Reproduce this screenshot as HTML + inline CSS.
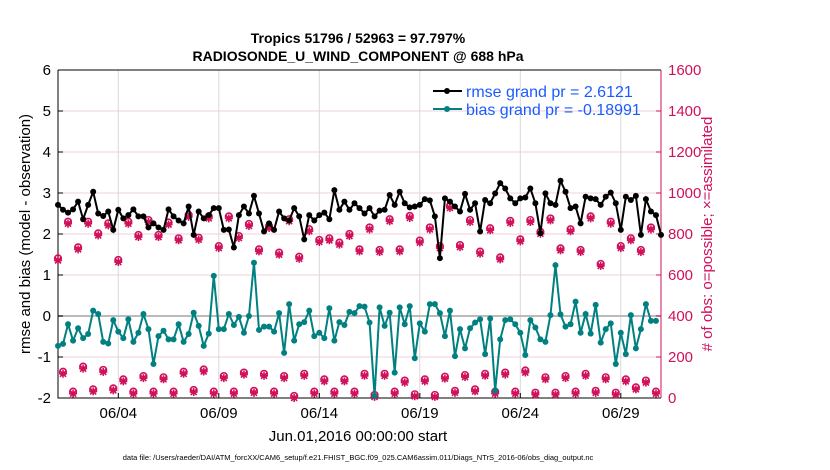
<!DOCTYPE html>
<html><head><meta charset="utf-8"><style>
body{margin:0;background:#fff;}
svg{display:block;font-family:"Liberation Sans",sans-serif;}
</style></head><body>
<svg id="chart" width="830" height="470" viewBox="0 0 830 470" xmlns="http://www.w3.org/2000/svg">
<text x="358" y="43" text-anchor="middle" font-size="14" font-weight="bold">Tropics 51796 / 52963 = 97.797%</text>
<text x="358" y="61" text-anchor="middle" font-size="14" font-weight="bold">RADIOSONDE_U_WIND_COMPONENT @ 688 hPa</text>
<g id="grid"></g>
<g id="axes"></g>
<g id="series"></g>
<text transform="translate(30,234) rotate(-90)" text-anchor="middle" font-size="15">rmse and bias (model - observation)</text>
<text fill="#d0105a" transform="translate(712,234) rotate(-90)" text-anchor="middle" font-size="15"># of obs: o=possible; ×=assimilated</text>
<text x="358" y="441" text-anchor="middle" font-size="15">Jun.01,2016 00:00:00 start</text>
<text x="358" y="460" text-anchor="middle" font-size="7.5">data file: /Users/raeder/DAI/ATM_forcXX/CAM6_setup/f.e21.FHIST_BGC.f09_025.CAM6assim.011/Diags_NTrS_2016-06/obs_diag_output.nc</text>
<g>
<line x1="433" y1="91" x2="462" y2="91" stroke="#000" stroke-width="2"/><circle cx="447" cy="91" r="3" fill="#000"/>
<text x="466" y="97" font-size="16" fill="#1a5cff">rmse grand pr = 2.6121</text>
<line x1="433" y1="109" x2="462" y2="109" stroke="#008080" stroke-width="2"/><circle cx="447" cy="109" r="3" fill="#008080"/>
<text x="466" y="115" font-size="16" fill="#1a5cff">bias grand pr = -0.18991</text>
</g>
</svg>
<script>
const rmse=[2.71,2.59,2.52,2.60,2.79,2.36,2.71,3.03,2.50,2.44,2.55,2.10,2.59,2.38,2.46,2.60,2.43,2.43,2.16,2.26,2.16,2.10,2.60,2.43,2.33,2.26,2.67,1.98,2.55,2.38,2.46,
2.63,2.63,2.10,2.11,1.67,2.46,2.67,2.50,2.93,2.50,2.06,2.26,2.10,2.55,2.38,2.33,2.63,2.43,1.87,2.46,2.33,2.46,2.52,2.36,3.07,2.59,2.79,2.59,2.75,2.63,
2.50,2.63,2.43,2.57,2.59,2.95,2.71,3.03,2.75,2.65,2.67,2.71,2.85,2.82,2.43,1.41,2.87,2.79,2.67,2.55,2.98,2.59,2.75,2.06,2.83,2.75,2.99,3.24,3.11,2.87,2.75,
2.87,2.89,3.11,2.75,2.02,2.99,2.75,2.71,3.30,3.03,2.63,2.67,2.26,2.91,2.87,2.85,2.71,2.91,3.01,2.75,2.10,2.91,2.83,2.93,1.98,2.85,2.55,2.46,1.98];
const bias=[-0.73,-0.68,-0.20,-0.60,-0.30,-0.54,-0.44,0.13,0.05,-0.63,-0.67,-0.10,-0.38,-0.54,-0.08,-0.63,-0.41,0.05,-0.32,-1.17,-0.49,-0.36,-0.57,-0.57,-0.20,-0.63,-0.44,0.08,-0.24,-0.73,-0.43,
0.98,-0.32,-0.32,0.05,-0.22,-0.02,-0.41,0.00,1.30,-0.34,-0.26,-0.26,-0.38,0.07,-0.90,0.29,-0.60,-0.20,-0.15,0.13,-0.49,-0.41,-0.54,0.19,-0.60,-0.15,-0.22,0.10,0.07,0.24,
0.23,-0.16,-1.95,0.21,-0.24,0.08,-1.38,0.21,-0.20,0.24,-1.03,-0.18,-0.38,0.29,0.29,0.07,-0.49,0.13,-0.98,-0.32,-0.79,-0.30,-0.16,-0.08,-0.93,-0.06,-1.82,-0.57,-0.10,-0.08,
-0.20,-0.41,-0.95,-0.10,-0.28,-0.57,-0.63,0.02,1.24,0.04,-0.26,-0.20,0.35,-0.41,0.05,-0.43,0.27,-0.65,-0.32,-0.18,-1.17,-0.41,-0.93,0.02,-0.79,-0.32,0.29,-0.12,-0.12];
const nPossible=[681,128,860,31,735,153,860,42,803,137,852,47,673,91,860,31,795,107,868,31,795,101,856,31,779,128,893,39,782,139,886,
31,741,107,886,31,790,124,849,35,725,118,839,31,709,107,872,10,689,118,823,31,771,91,779,31,758,91,800,31,725,
118,832,15,722,118,872,31,725,85,888,18,768,91,832,15,741,104,937,35,746,112,868,42,714,118,828,31,686,124,864,
31,774,134,868,26,811,101,876,26,730,107,823,31,722,118,886,35,654,101,860,26,741,91,779,52,722,85,832,31];
const nAssimilated=[681,128,860,31,735,153,860,42,803,137,852,47,673,91,860,31,795,107,868,31,795,101,856,31,779,128,893,39,782,139,886,
31,741,107,886,31,790,124,849,35,725,118,839,31,709,107,872,10,689,118,823,31,771,91,779,31,758,91,800,31,725,
118,832,15,722,118,872,31,725,85,888,18,768,91,832,15,741,104,937,35,746,112,868,42,714,118,828,31,686,124,864,
31,774,134,868,26,811,101,876,26,730,107,823,31,722,118,886,35,654,101,860,26,741,91,779,52,722,85,832,31];
const leftTicks=[-2,-1,0,1,2,3,4,5,6];
const rightTicks=[0,200,400,600,800,1000,1200,1400,1600];
const dateTickDays=[3,8,13,18,23,28];
const dateTickLabels=["06/04","06/09","06/14","06/19","06/24","06/29"];

const X0=58,X1=661,Y0=398,Y1=70,NDAYS=30,STEP=0.25;
const xs=d=>X0+(d/NDAYS)*(X1-X0);
const yL=v=>Y0-(v+2)/8*(Y0-Y1);
const yR=v=>Y0-v/1600*(Y0-Y1);
const NS="http://www.w3.org/2000/svg";
function mk(tag,attrs,parent){const e=document.createElementNS(NS,tag);for(const k in attrs)e.setAttribute(k,attrs[k]);parent.appendChild(e);return e;}
const grid=document.getElementById('grid'),axes=document.getElementById('axes'),ser=document.getElementById('series');

leftTicks.forEach(t=>{
  const g=mk('line',{x1:X0,x2:X1,y1:yL(t),y2:yL(t),stroke:'#f0d0dc','stroke-width':1},grid);
  
  
  const tk=mk('line',{x1:X0,x2:X0+5,y1:yL(t),y2:yL(t),stroke:'#000'},axes);
  
  
  const lb=mk('text',{x:X0-7,y:yL(t)+5,'text-anchor':'end','font-size':15},axes);
  
  
  lb.textContent=t;
});
rightTicks.forEach(t=>{
  const tk=mk('line',{x1:X1-5,x2:X1,y1:yR(t),y2:yR(t),stroke:'#d0105a'},axes);
  
  
  const lb=mk('text',{x:X1+7,y:yR(t)+5,'font-size':15,fill:'#d0105a'},axes);
  
  
  lb.textContent=t;
});
dateTickDays.forEach((d,i)=>{
  const g=mk('line',{x1:xs(d),x2:xs(d),y1:Y1,y2:Y0,stroke:'#d8d8d8','stroke-width':1},grid);
  
  
  const tk=mk('line',{x1:xs(d),x2:xs(d),y1:Y0-5,y2:Y0,stroke:'#000'},axes);
  
  
  const lb=mk('text',{x:xs(d),y:Y0+20,'text-anchor':'middle','font-size':15},axes);
  
  
  lb.textContent=dateTickLabels[i];
});
const zl=mk('line',{x1:X0,x2:X1,y1:yL(0),y2:yL(0),stroke:'#bbb','stroke-width':2},grid);


const frame=mk('path',{d:`M${X0},${Y1}V${Y0}H${X1}M${X0},${Y1}H${X1}`,fill:'none',stroke:'#000'},axes);


const ra=mk('line',{x1:X1,x2:X1,y1:Y1,y2:Y0,stroke:'#d0105a'},axes);



// counts
nPossible.forEach((v,i)=>{
  const x=xs(i*STEP),y=yR(v);
  const c=mk('circle',{cx:x,cy:y,r:3.3,fill:'none',stroke:'#d0105a','stroke-width':1.6},ser);
  
  
});
nAssimilated.forEach((v,i)=>{
  const x=xs(i*STEP),y=yR(v)+2;
  const p=mk('path',{d:`M${x-4},${y}H${x+4}M${x},${y-4}V${y+4}M${x-3},${y-3}L${x+3},${y+3}M${x-3},${y+3}L${x+3},${y-3}`,stroke:'#d0105a','stroke-width':1.6},ser);
  
  
});
function line(arr,col,name){
  const pts=arr.map((v,i)=>xs(i*STEP)+','+yL(v)).join(' ');
  const pl=mk('polyline',{points:pts,fill:'none',stroke:col,'stroke-width':2},ser);
  
  
  arr.forEach((v,i)=>{
    const c=mk('circle',{cx:xs(i*STEP),cy:yL(v),r:3,fill:col},ser);
    
    
  });
}
line(bias,'#008080','bias');
line(rmse,'#000','rmse');
</script>
</body></html>
